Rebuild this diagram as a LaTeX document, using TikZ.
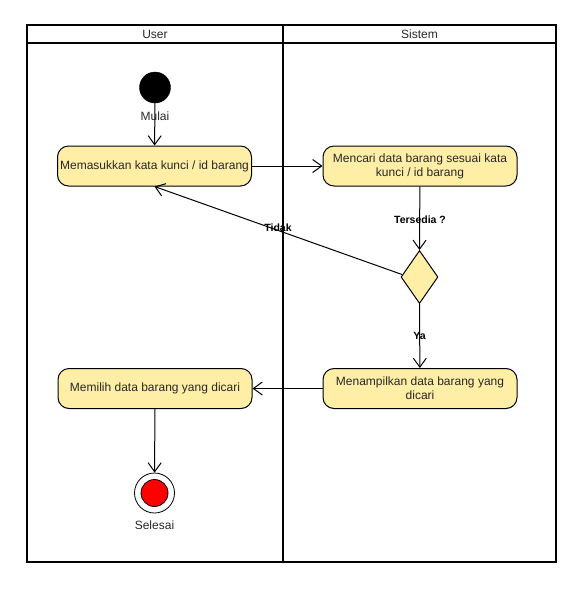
\documentclass[tikz,border=0pt]{standalone}
\usepackage{fontspec}
\setmainfont{Liberation Sans}
\usetikzlibrary{arrows.meta,shapes.geometric}
\definecolor{actfill}{RGB}{255,238,166}
\definecolor{txtcol}{RGB}{40,40,40}
\tikzset{
  act/.style={draw=black, line width=1pt, fill=actfill, rounded corners=11pt,
    minimum width=194pt, minimum height=40pt, align=center, inner sep=2pt,
    font=\fontsize{12}{14}\selectfont, text=txtcol},
  flow/.style={draw=black, line width=1pt, -{Straight Barb[length=9pt, width=13pt, line width=1pt]}},
  lbl/.style={font=\fontsize{12}{14}\selectfont, text=txtcol, inner sep=0pt},
  blbl/.style={font=\bfseries\fontsize{10.5}{12}\selectfont, text=black, inner sep=0pt},
  lane/.style={draw=black, line width=1.8pt}
}
\begin{document}
\begin{tikzpicture}[x=1pt,y=-1pt]
\useasboundingbox (0,0) rectangle (588,592);
\fill[white] (0,0) rectangle (588,592);
% swimlanes
\draw[lane] (27,25) rectangle (556,562);
\draw[lane] (27,43) -- (556,43);
\draw[lane] (283,25) -- (283,562);
\node[lbl] (hu) at (155,34) {User};
\node[lbl] (hs) at (419.5,34) {Sistem};
% nodes
\node[circle, fill=black, draw=black, minimum size=31pt, inner sep=0pt] (start) at (155,87.5) {};
\node[act] (b1) at (154.5,166) {Memasukkan kata kunci / id barang};
\node[act] (b2) at (420,166) {Mencari data barang sesuai kata\\kunci / id barang};
\node[diamond, draw=black, line width=1pt, fill=actfill, minimum width=37pt, minimum height=53pt, inner sep=0pt] (d) at (419.5,277) {};
\node[act] (b3) at (420,388.5) {Menampilkan data barang yang\\dicari};
\node[act] (b4) at (155,388.5) {Memilih data barang yang dicari};
\node[circle, draw=black, line width=0.8pt, fill=white, minimum size=40pt, inner sep=0pt] (endo) at (154.5,493) {};
\node[circle, draw=black, line width=0.8pt, fill=red, minimum size=27pt, inner sep=0pt] (endi) at (154.5,493) {};
% labels
\node[lbl] (mulai) at (155,116) {Mulai};
\node[lbl] (selesai) at (154.5,525) {Selesai};
% connectors
\draw[flow] (start) -- (b1);
\draw[flow] (b1) -- (b2);
\draw[flow] (b2) -- (d.north);
\draw[flow] (d.172) -- (b1.south);
\draw[flow] (d.south) -- (b3);
\draw[flow] (b3) -- (b4);
\draw[flow] (b4) -- (endo);
\node[blbl] (tidak) at (278,228) {Tidak};
\node[blbl] (tersedia) at (420,220) {Tersedia ?};
\node[blbl] (ya) at (419.5,336) {Ya};
\end{tikzpicture}
\end{document}
